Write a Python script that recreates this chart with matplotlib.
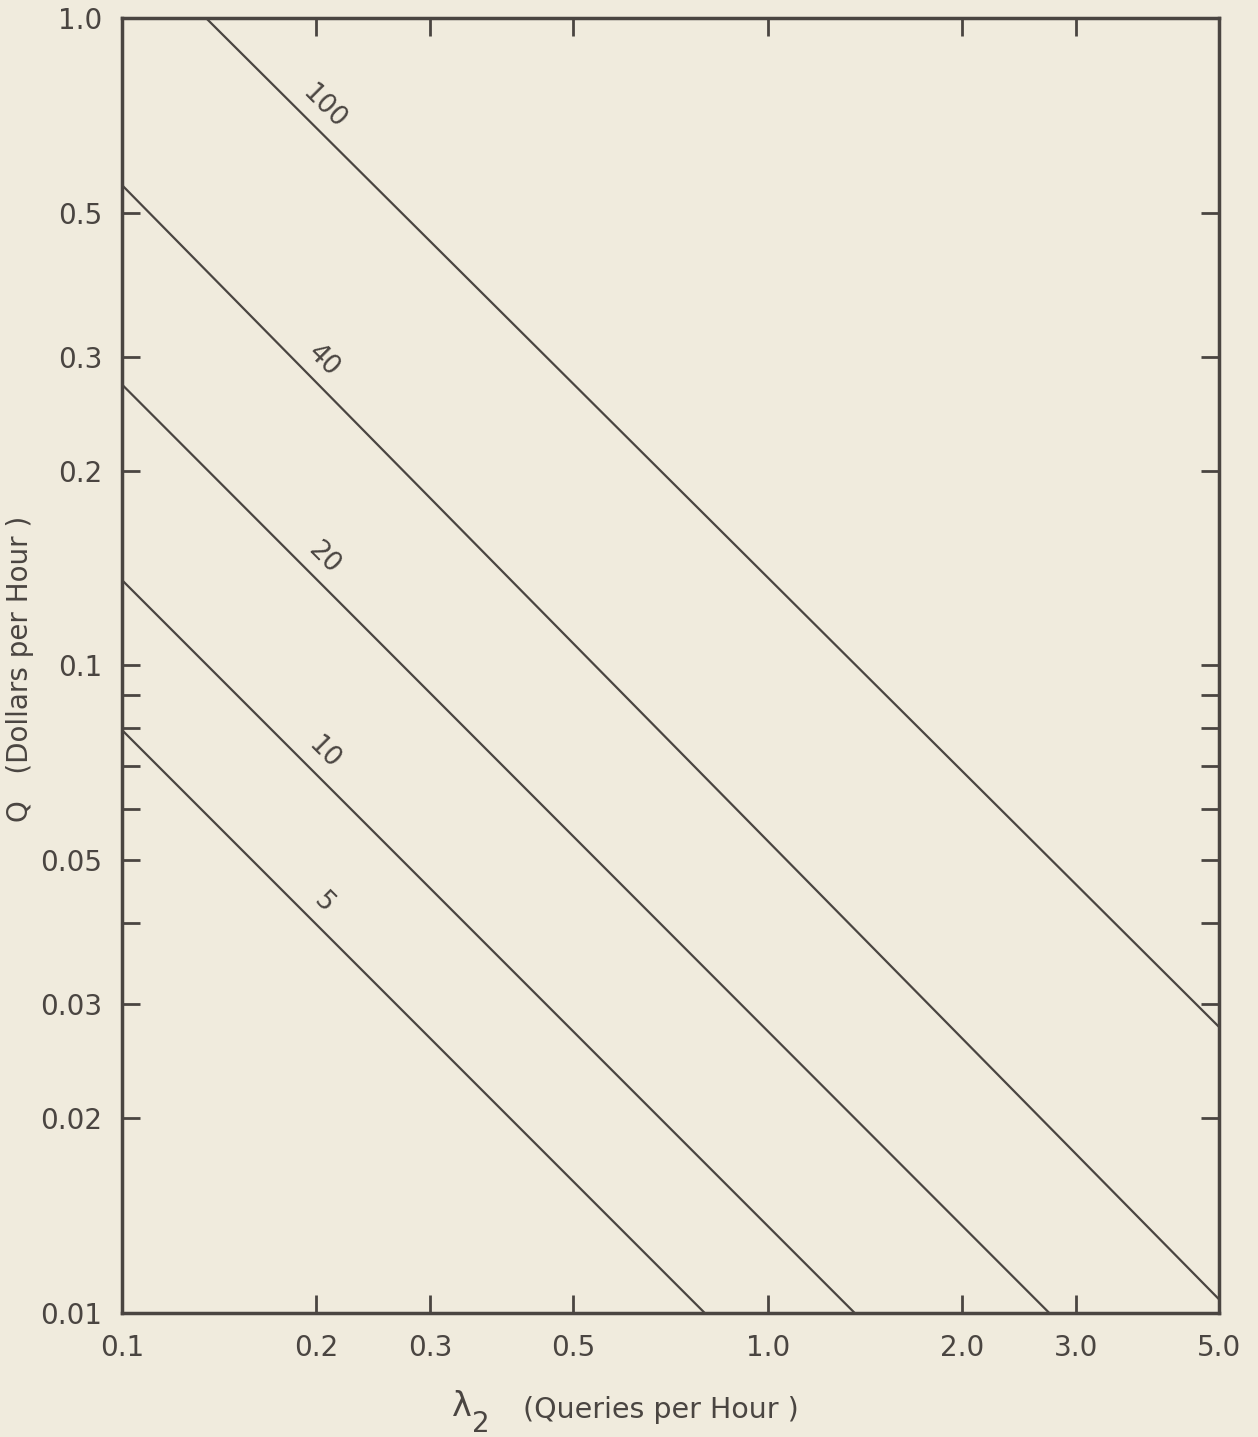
import numpy as np
import matplotlib
matplotlib.use("Agg")
import matplotlib.pyplot as plt
from matplotlib.ticker import FixedLocator, NullLocator, NullFormatter

# ---- data ----
line_labels = ["5", "10", "20", "40", "100"]
line_x = [
    [0.1, 0.799],
    [0.1, 1.364],
    [0.1, 2.73],
    [0.1, 5.0],
    [0.1349, 5.0],
]
line_y = [
    [0.0795, 0.01],
    [0.1355, 0.01],
    [0.2716, 0.01],
    [0.552, 0.0105],
    [1.0, 0.02766],
]
label_at_x = 0.195

x_ticks = [0.1, 0.2, 0.3, 0.5, 1.0, 2.0, 3.0, 5.0]
x_tick_labels = ["0.1", "0.2", "0.3", "0.5", "1.0", "2.0", "3.0", "5.0"]
y_ticks = [0.01, 0.02, 0.03, 0.05, 0.1, 0.2, 0.3, 0.5, 1.0]
y_tick_labels = ["0.01", "0.02", "0.03", "0.05", "0.1", "0.2", "0.3", "0.5", "1.0"]
y_minor_ticks = [0.04, 0.06, 0.07, 0.08, 0.09]

# ---- style ----
bg = "#F0EBDD"
ink = "#4A4541"
plt.rcParams['font.family'] = ['DejaVu Sans']

W, H = 1258, 1437
fig = plt.figure(figsize=(W / 100, H / 100), dpi=100, facecolor=bg)
ax = fig.add_axes([122 / W, 1 - 1313 / H, (1219 - 122) / W, (1313 - 18) / H])
ax.set_facecolor(bg)
ax.set_xscale('log')
ax.set_yscale('log')
ax.set_xlim(0.1, 5.0)
ax.set_ylim(0.01, 1.0)

for xs, ys, lab in zip(line_x, line_y, line_labels):
    ax.plot(xs, ys, color=ink, lw=1.6, solid_capstyle='butt')
    # point on the line at label_at_x (log-log interpolation)
    ly = 10 ** np.interp(np.log10(label_at_x), np.log10(xs), np.log10(ys))
    ax.annotate(lab, xy=(label_at_x, ly), xytext=(10.5, 10.5), textcoords='offset points',
                rotation=-45, rotation_mode='anchor', ha='center', va='center',
                fontsize=19, color=ink)

ax.xaxis.set_major_locator(FixedLocator(x_ticks))
ax.set_xticklabels(x_tick_labels)
ax.xaxis.set_minor_locator(NullLocator())
ax.yaxis.set_major_locator(FixedLocator(y_ticks))
ax.set_yticklabels(y_tick_labels)
ax.yaxis.set_minor_locator(FixedLocator(y_minor_ticks))
ax.yaxis.set_minor_formatter(NullFormatter())

ax.tick_params(which='both', direction='in', length=13, width=2, top=True, right=True,
               color=ink, labelcolor=ink, labelsize=20)
ax.tick_params(axis='y', pad=14)
ax.tick_params(axis='x', pad=15)

for s in ax.spines.values():
    s.set_linewidth(2.5)
    s.set_color(ink)

# x-axis title: upright lambda with subscript 2, then the words
fig.text(462 / W, 1 - 1406 / H, "λ", ha='center', va='center', fontsize=24, color=ink)
fig.text(481 / W, 1 - 1424 / H, "2", ha='center', va='center', fontsize=20, color=ink)
fig.text(523 / W, 1 - 1410 / H, "(Queries per Hour )", ha='left', va='center',
         fontsize=20.5, color=ink)
fig.text(20 / W, 1 - 669 / H, "Q   (Dollars per Hour )", ha='center', va='center',
         rotation=90, fontsize=20, color=ink)

fig.savefig("out.png", dpi=100, facecolor=bg)
